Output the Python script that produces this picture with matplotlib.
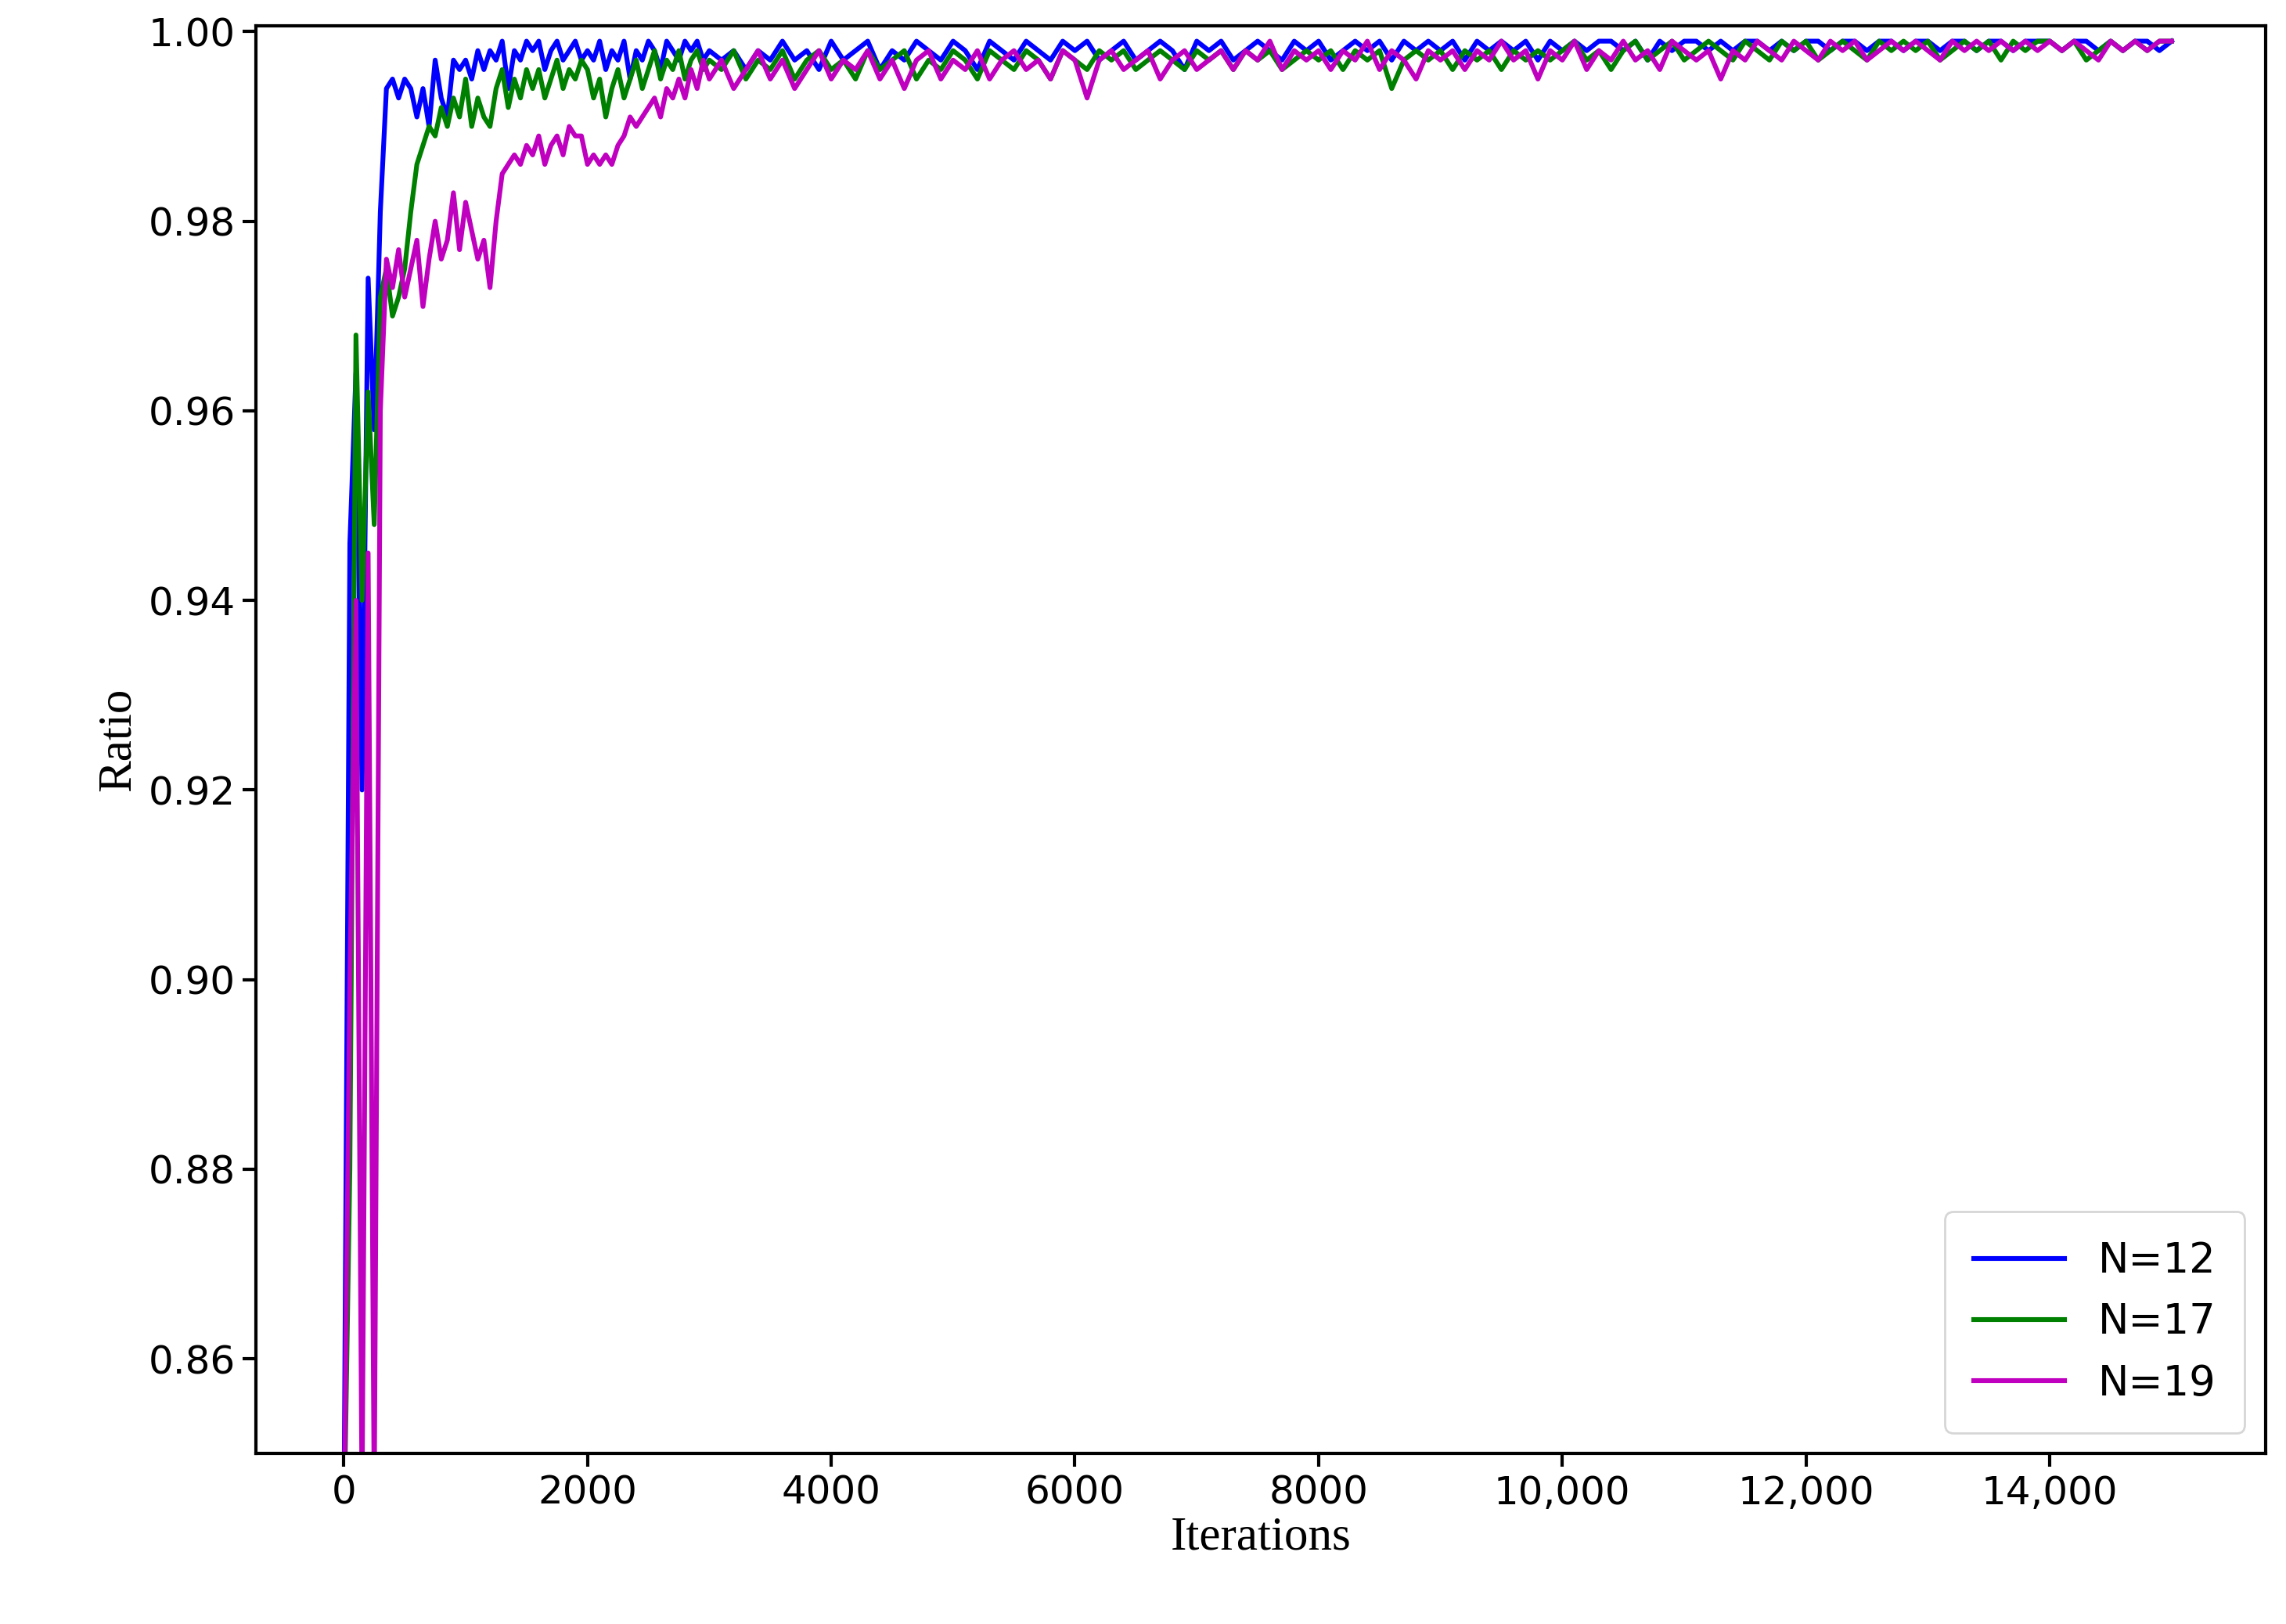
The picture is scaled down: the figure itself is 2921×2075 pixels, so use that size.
import matplotlib
matplotlib.use('Agg')
import matplotlib.pyplot as plt
import numpy as np
from matplotlib.ticker import FuncFormatter

# iterations: every 50 up to 3000, then every 100 up to 15000
iters = np.concatenate([np.arange(0, 3001, 50), np.arange(3100, 15001, 100)])

n12 = [0.840, 0.946, 0.964, 0.920, 0.974, 0.958, 0.981, 0.994, 0.995, 0.993,
       0.995, 0.994, 0.991, 0.994, 0.990, 0.997, 0.993, 0.991, 0.997, 0.996,
       0.997, 0.995, 0.998, 0.996, 0.998, 0.997, 0.999, 0.994, 0.998, 0.997,
       0.999, 0.998, 0.999, 0.996, 0.998, 0.999, 0.997, 0.998, 0.999, 0.997,
       0.998, 0.997, 0.999, 0.996, 0.998, 0.997, 0.999, 0.995, 0.998, 0.997,
       0.999, 0.998, 0.996, 0.999, 0.998, 0.997, 0.999, 0.998, 0.999, 0.997,
       0.998,
       0.997, 0.998, 0.996, 0.998, 0.997, 0.999, 0.997, 0.998, 0.996, 0.999,
       0.997, 0.998, 0.999, 0.996, 0.998, 0.997, 0.999, 0.998, 0.997, 0.999,
       0.998, 0.996, 0.999, 0.998, 0.997, 0.999, 0.998, 0.997, 0.999, 0.998,
       0.999, 0.997, 0.998, 0.999, 0.997, 0.998, 0.999, 0.998, 0.996, 0.999,
       0.998, 0.999, 0.997, 0.998, 0.999, 0.998, 0.997, 0.999, 0.998, 0.999,
       0.997, 0.998, 0.999, 0.998, 0.999, 0.997, 0.999, 0.998, 0.999, 0.998,
       0.999, 0.997, 0.999, 0.998, 0.999, 0.998, 0.999, 0.997, 0.999, 0.998,
       0.999, 0.998, 0.999, 0.999, 0.998, 0.999, 0.997, 0.999, 0.998, 0.999,
       0.999, 0.998, 0.999, 0.998, 0.999, 0.999, 0.998, 0.999, 0.998, 0.999,
       0.999, 0.998, 0.999, 0.999, 0.998, 0.999, 0.999, 0.998, 0.999, 0.999,
       0.998, 0.999, 0.999, 0.998, 0.999, 0.999, 0.998, 0.999, 0.999, 0.999,
       0.998, 0.999, 0.999, 0.998, 0.999, 0.998, 0.999, 0.999, 0.998, 0.999]

n17 = [0.840, 0.880, 0.968, 0.940, 0.962, 0.948, 0.972, 0.975, 0.970, 0.972,
       0.975, 0.981, 0.986, 0.988, 0.990, 0.989, 0.992, 0.990, 0.993, 0.991,
       0.995, 0.990, 0.993, 0.991, 0.990, 0.994, 0.996, 0.992, 0.995, 0.993,
       0.996, 0.994, 0.996, 0.993, 0.995, 0.997, 0.994, 0.996, 0.995, 0.997,
       0.996, 0.993, 0.995, 0.991, 0.994, 0.996, 0.993, 0.995, 0.997, 0.994,
       0.996, 0.998, 0.995, 0.997, 0.996, 0.998, 0.995, 0.997, 0.998, 0.996,
       0.997,
       0.996, 0.998, 0.995, 0.997, 0.996, 0.998, 0.995, 0.997, 0.998, 0.996,
       0.997, 0.995, 0.998, 0.996, 0.997, 0.998, 0.995, 0.997, 0.996, 0.998,
       0.997, 0.995, 0.998, 0.997, 0.996, 0.998, 0.997, 0.995, 0.998, 0.997,
       0.996, 0.998, 0.997, 0.998, 0.996, 0.997, 0.998, 0.997, 0.996, 0.998,
       0.997, 0.998, 0.996, 0.998, 0.997, 0.998, 0.996, 0.997, 0.998, 0.997,
       0.998, 0.996, 0.998, 0.997, 0.998, 0.994, 0.997, 0.998, 0.997, 0.998,
       0.996, 0.998, 0.997, 0.998, 0.996, 0.998, 0.997, 0.998, 0.997, 0.998,
       0.999, 0.997, 0.998, 0.996, 0.998, 0.999, 0.997, 0.998, 0.999, 0.997,
       0.998, 0.999, 0.998, 0.997, 0.999, 0.998, 0.997, 0.999, 0.998, 0.999,
       0.997, 0.998, 0.999, 0.998, 0.997, 0.999, 0.998, 0.999, 0.998, 0.999,
       0.997, 0.998, 0.999, 0.998, 0.999, 0.997, 0.999, 0.998, 0.999, 0.999,
       0.998, 0.999, 0.997, 0.998, 0.999, 0.998, 0.999, 0.998, 0.999, 0.999]

n19 = [0.840, 0.900, 0.940, 0.845, 0.945, 0.845, 0.960, 0.976, 0.973, 0.977,
       0.972, 0.975, 0.978, 0.971, 0.976, 0.980, 0.976, 0.978, 0.983, 0.977,
       0.982, 0.979, 0.976, 0.978, 0.973, 0.980, 0.985, 0.986, 0.987, 0.986,
       0.988, 0.987, 0.989, 0.986, 0.988, 0.989, 0.987, 0.990, 0.989, 0.989,
       0.986, 0.987, 0.986, 0.987, 0.986, 0.988, 0.989, 0.991, 0.990, 0.991,
       0.992, 0.993, 0.991, 0.994, 0.993, 0.995, 0.993, 0.996, 0.994, 0.997,
       0.995,
       0.997, 0.994, 0.996, 0.998, 0.995, 0.997, 0.994, 0.996, 0.998, 0.995,
       0.997, 0.996, 0.998, 0.995, 0.997, 0.994, 0.997, 0.998, 0.995, 0.997,
       0.996, 0.998, 0.995, 0.997, 0.998, 0.996, 0.997, 0.995, 0.998, 0.997,
       0.993, 0.997, 0.998, 0.996, 0.997, 0.998, 0.995, 0.997, 0.998, 0.996,
       0.997, 0.998, 0.996, 0.998, 0.997, 0.999, 0.996, 0.998, 0.997, 0.998,
       0.996, 0.998, 0.997, 0.999, 0.996, 0.998, 0.997, 0.995, 0.998, 0.997,
       0.998, 0.996, 0.998, 0.997, 0.999, 0.997, 0.998, 0.995, 0.998, 0.997,
       0.999, 0.996, 0.998, 0.997, 0.999, 0.997, 0.998, 0.996, 0.999, 0.998,
       0.997, 0.998, 0.995, 0.998, 0.997, 0.999, 0.998, 0.997, 0.999, 0.998,
       0.997, 0.999, 0.998, 0.999, 0.997, 0.998, 0.999, 0.998, 0.999, 0.998,
       0.997, 0.999, 0.998, 0.999, 0.998, 0.999, 0.998, 0.999, 0.998, 0.999,
       0.998, 0.999, 0.998, 0.997, 0.999, 0.998, 0.999, 0.998, 0.999, 0.999]

fig, ax = plt.subplots(figsize=(14.605, 10.375), dpi=200)
fig.subplots_adjust(left=0.112, right=0.991, top=0.984, bottom=0.105)

ax.plot(iters, n12, color='blue', lw=2.2, label='N=12')
ax.plot(iters, n17, color='green', lw=2.2, label='N=17')
ax.plot(iters, n19, color='m', lw=2.2, label='N=19')

ax.set_xlim(-720, 15770)
ax.set_ylim(0.85, 1.0006)
ax.set_xticks(range(0, 14001, 2000))
ax.xaxis.set_major_formatter(FuncFormatter(lambda v, p: f'{int(v):,}' if v >= 10000 else f'{int(v)}'))
ax.set_yticks(np.arange(0.86, 1.001, 0.02))
ax.yaxis.set_major_formatter(FuncFormatter(lambda v, p: f'{v:.2f}'))
ax.tick_params(labelsize=18, width=1.5, length=6)
for s in ax.spines.values():
    s.set_linewidth(1.5)

ax.set_xlabel('Iterations', family='Liberation Serif', fontsize=22, labelpad=2)
ax.set_ylabel('Ratio', family='Liberation Serif', fontsize=22)
ax.legend(loc='lower right', fontsize=19, handlelength=2.2, borderpad=0.7)

fig.savefig('out.png')
